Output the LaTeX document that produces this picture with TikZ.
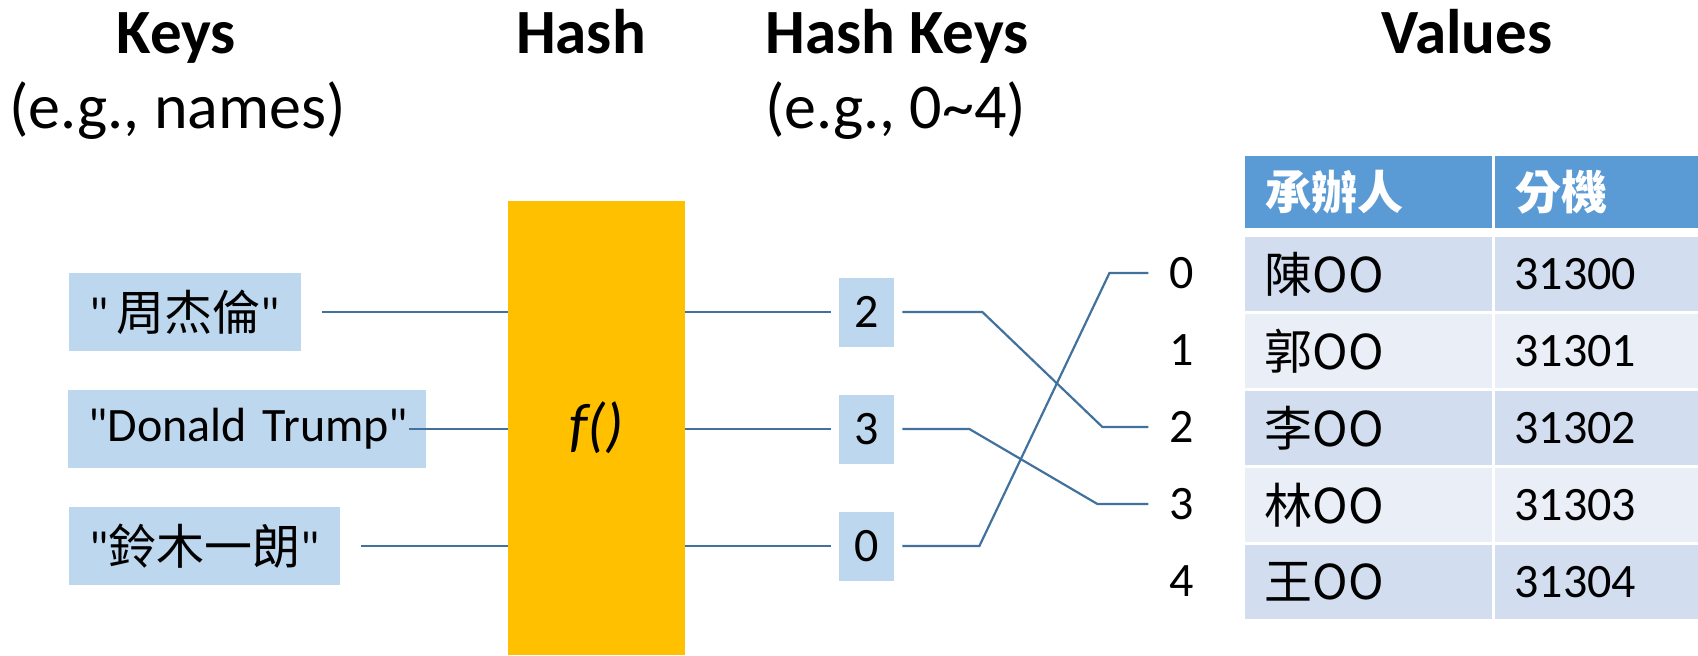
\documentclass[tikz,border=0pt]{standalone}
\usepackage{fontspec}
\setmainfont{Carlito}
\newfontfamily\cjk{Noto Sans CJK TC}
\usetikzlibrary{calc}
\definecolor{boxblue}{HTML}{BDD7EE}
\definecolor{hashgold}{HTML}{FFC000}
\definecolor{linkblue}{HTML}{41719C}
\definecolor{headblue}{HTML}{5B9BD5}
\definecolor{rowdark}{HTML}{D2DEEF}
\definecolor{rowlight}{HTML}{EAEFF7}
\newcommand{\qq}{\textquotedbl}
\begin{document}
\begin{tikzpicture}[x=0.5pt,y=-0.5pt,
  title/.style={font=\fontsize{31.5}{36}\selectfont\bfseries, anchor=base, inner sep=0pt},
  subtitle/.style={font=\fontsize{32}{36}\selectfont, anchor=base, inner sep=0pt},
  keybox/.style={fill=boxblue, anchor=west, align=left, inner xsep=10pt, inner ysep=0pt, minimum height=39pt, font=\fontsize{24}{28}\selectfont},
  hkbox/.style={fill=boxblue, minimum width=27.5pt, minimum height=34.5pt, inner sep=0pt, font=\fontsize{24}{28}\selectfont},
  link/.style={draw=linkblue, line width=1.1pt},
  idx/.style={inner sep=0pt, font=\fontsize{24}{28}\selectfont},
  cell/.style={anchor=west, inner sep=0pt, font=\fontsize{24}{28}\selectfont},
  headcell/.style={anchor=west, inner sep=0pt, text=white, font=\fontsize{23}{28}\selectfont\bfseries\cjk}
]
\useasboundingbox (0,0) rectangle (1698,655);

% titles
\node[title] (tkeys) at (176.5,53) {Keys};
\node[subtitle] (skeys) at (177.5,128) {(e.g., names)};
\node[title] (thash) at (581,53) {Hash};
\node[title] (thk) at (897,53) {Hash Keys};
\node[subtitle] (shk) at (895.5,128) {(e.g., 0\textasciitilde 4)};
\node[title] (tval) at (1467,53) {Values};

% keys
\node[keybox, text width=96pt] (k1) at (69,312) {\mbox{\qq\,{\cjk 周杰倫}\qq}};
\node[keybox, text width=159pt] (k2) at (68,429) {\mbox{\qq Donald Trump\qq}};
\node[keybox, text width=115.5pt] (k3) at (69,546) {\mbox{\qq{\cjk 鈴木一朗}\qq}};

% hash function
\node[fill=hashgold, minimum width=88.5pt, minimum height=227pt, inner sep=0pt,
      font=\fontsize{30}{34}\selectfont\itshape] (hash) at (596.5,428) {f()};

% hash keys
\node[hkbox] (h2) at (866.5,312) {2};
\node[hkbox] (h3) at (866.5,429) {3};
\node[hkbox] (h0) at (866.5,546) {0};

% table header
\fill[headblue] (1245,156) rectangle (1492,228);
\fill[headblue] (1495,156) rectangle (1698,228);
\node[headcell] (hd1) at (1265,192) {承辦人};
\node[headcell] (hd2) at (1515,192) {分機};

% table rows and index numbers
\foreach \i/\nm/\num/\col in {0/陳/31300/rowdark, 1/郭/31301/rowlight, 2/李/31302/rowdark, 3/林/31303/rowlight, 4/王/31304/rowdark} {
  \pgfmathsetmacro\rtop{237+77*\i}
  \fill[\col] (1245,\rtop) rectangle (1492,\rtop+74);
  \fill[\col] (1495,\rtop) rectangle (1698,\rtop+74);
  \node[cell] (n\i) at (1264,\rtop+37) {{\cjk \nm OO}};
  \node[cell] (v\i) at (1514,\rtop+37) {\num};
  \node[idx] (i\i) at (1182,\rtop+36) {\i};
}

% connectors: keys -> hash
\draw[link] ([xshift=10pt]k1.east) -- (hash.west |- k1.east);
\draw[link] ([xshift=-9pt]k2.east) -- (hash.west |- k2.east);
\draw[link] ([xshift=10pt]k3.east) -- (hash.west |- k3.east);

% hash -> hash keys
\draw[link] (hash.east |- h2.west) -- ([xshift=-4pt]h2.west);
\draw[link] (hash.east |- h3.west) -- ([xshift=-4pt]h3.west);
\draw[link] (hash.east |- h0.west) -- ([xshift=-4pt]h0.west);

% hash keys -> index
\draw[link] ([xshift=4pt]h2.east) -- ++(40pt,0) -- ([xshift=-33.5pt]i2.west) -- ([xshift=-10.5pt]i2.west);
\draw[link] ([xshift=4pt]h3.east) -- ++(33.5pt,0) -- ([xshift=-36pt]i3.west) -- ([xshift=-10.5pt]i3.west);
\draw[link] ([xshift=4pt]h0.east) -- ++(38.5pt,0) -- ([xshift=-30pt]i0.west) -- ([xshift=-10.5pt]i0.west);
\end{tikzpicture}
\end{document}
